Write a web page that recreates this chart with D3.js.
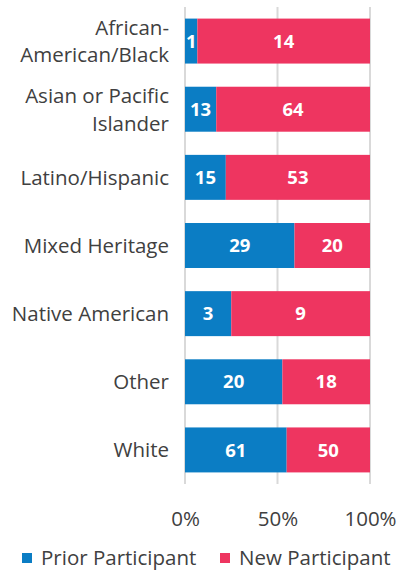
<!DOCTYPE html>
<html>
<head>
<meta charset="utf-8">
<script src="https://cdn.jsdelivr.net/npm/d3@7"></script>
<style>
  html, body { margin: 0; padding: 0; background: #fff; }
  svg { display: block; font-family: "Open Sans", Lato, sans-serif; }
</style>
</head>
<body>
<svg id="chart" width="399" height="577"></svg>
<script>
// Participant counts per group, stacked as shares of each group's total
const categories = [
  ["African-", "American/Black"],
  ["Asian or Pacific", "Islander"],
  ["Latino/Hispanic"],
  ["Mixed Heritage"],
  ["Native American"],
  ["Other"],
  ["White"]
];
const priorParticipant = [1, 13, 15, 29, 3, 20, 61];
const newParticipant   = [14, 64, 53, 20, 9, 18, 50];
const seriesNames = ["Prior Participant", "New Participant"];
const seriesColors = ["#0b7dc4", "#ee3560"];
const tickValues = [0, 0.5, 1];
const tickLabels = ["0%", "50%", "100%"];

const FONT = 20.5;
const TEXT = "#404040";
const LINE = 1.36; // em spacing for wrapped category labels

const svg = d3.select("#chart");
const margin = { top: 7, left: 185, right: 29, bottom: 93 };
const width = 399 - margin.left - margin.right;
const height = 577 - margin.top - margin.bottom;
const g = svg.append("g").attr("transform", `translate(${margin.left},${margin.top})`);

const idx = categories.map((_, i) => i);
const x = d3.scaleLinear().domain([0, 1]).range([0, width]);
const y = d3.scaleBand().domain(idx).range([0, height]).paddingInner(0.34).paddingOuter(0.17);

// Gridlines
g.selectAll("line.grid").data(tickValues).join("line")
  .attr("class", "grid")
  .attr("x1", d => x(d)).attr("x2", d => x(d))
  .attr("y1", 0).attr("y2", height)
  .attr("stroke", "#d9d9d9").attr("stroke-width", 2);

// Stacked segments
const rows = idx.map(i => {
  const total = priorParticipant[i] + newParticipant[i];
  return [
    { i, s: 0, v: priorParticipant[i], x0: 0, x1: priorParticipant[i] / total },
    { i, s: 1, v: newParticipant[i], x0: priorParticipant[i] / total, x1: 1 }
  ];
}).flat();

g.selectAll("rect.seg").data(rows).join("rect")
  .attr("class", "seg")
  .attr("x", d => x(d.x0))
  .attr("width", d => x(d.x1) - x(d.x0))
  .attr("y", d => y(d.i))
  .attr("height", y.bandwidth())
  .attr("fill", d => seriesColors[d.s]);

g.selectAll("text.val").data(rows).join("text")
  .attr("class", "val")
  .attr("x", d => (x(d.x0) + x(d.x1)) / 2)
  .attr("y", d => y(d.i) + y.bandwidth() / 2)
  .attr("dy", "0.36em")
  .attr("text-anchor", "middle")
  .attr("fill", "#fff")
  .attr("font-weight", "bold")
  .attr("font-size", 18.5)
  .text(d => d.v);

// Category labels (one text element per line)
const catLines = idx.flatMap(i => categories[i].map((ln, k) => ({ i, k, n: categories[i].length, ln })));
g.selectAll("text.cat").data(catLines).join("text")
  .attr("class", "cat")
  .attr("text-anchor", "end")
  .attr("fill", TEXT)
  .attr("font-size", FONT)
  .attr("x", -16)
  .attr("y", d => y(d.i) + y.bandwidth() / 2 + (d.k - (d.n - 1) / 2) * LINE * FONT)
  .attr("dy", "0.36em")
  .text(d => d.ln);

// X axis tick labels
const xAxis = d3.axisBottom(x).tickValues(tickValues).tickFormat((d, k) => tickLabels[k]).tickSize(0).tickPadding(27);
const ax = g.append("g").attr("transform", `translate(0,${height})`).call(xAxis);
ax.select(".domain").remove();
ax.selectAll("text").attr("font-size", FONT).attr("fill", TEXT).attr("font-family", "'Open Sans', Lato, sans-serif");

// Legend
const legend = svg.append("g").attr("transform", "translate(0,558)");
const legendX = [22, 220];
seriesNames.forEach((name, k) => {
  const lg = legend.append("g").attr("transform", `translate(${legendX[k]},0)`);
  lg.append("rect").attr("x", 0).attr("y", -5).attr("width", 10).attr("height", 10).attr("fill", seriesColors[k]);
  lg.append("text").attr("x", 19).attr("dy", "0.36em").attr("font-size", FONT).attr("fill", TEXT).text(name);
});
</script>
</body>
</html>
